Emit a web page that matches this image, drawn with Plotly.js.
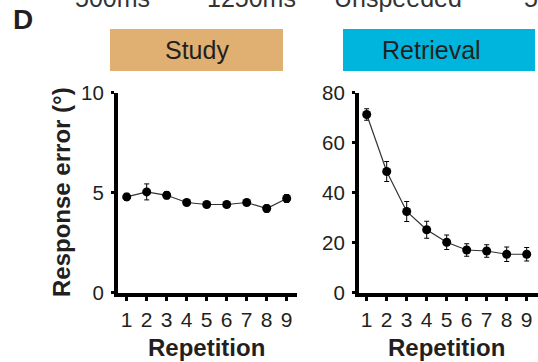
<!DOCTYPE html>
<html>
<head>
<meta charset="utf-8">
<script src="https://cdn.plot.ly/plotly-3.0.1.min.js"></script>
<style>
  html, body { margin: 0; padding: 0; background: #fff; }
  #chart { width: 538px; height: 362px; }
</style>
</head>
<body>
<div id="chart"></div>
<script>
// Repetition number shared by both phases
const repetitions = [1, 2, 3, 4, 5, 6, 7, 8, 9];

// Study phase: mean response error (deg) and SEM
const studyError = [4.78, 5.03, 4.86, 4.50, 4.40, 4.40, 4.50, 4.20, 4.70];
const studySem   = [0.18, 0.40, 0.18, 0.15, 0.15, 0.15, 0.15, 0.18, 0.20];

// Retrieval phase: mean response error (deg) and SEM
const retrievalError = [71.2, 48.4, 32.4, 25.1, 20.1, 17.0, 16.6, 15.3, 15.3];
const retrievalSem   = [2.3, 4.0, 4.0, 3.4, 2.9, 2.5, 2.5, 2.9, 2.7];

// Panel headings and the speed-condition labels above them
const phaseLabels = ["Study", "Retrieval"];
const conditionLabels = ["500ms", "1250ms", "Unspeeded", "500ms"];

const W = 538, H = 362;
const px = v => v / W;          // horizontal pixel -> paper fraction
const py = v => 1 - v / H;      // vertical pixel -> paper fraction

const FONT = "Liberation Sans, Arial, sans-serif";
const INK = "#231f20";

function series(y, err, xa, ya) {
  return {
    x: repetitions, y: y,
    xaxis: xa, yaxis: ya,
    type: "scatter", mode: "lines+markers",
    line: { color: "#333333", width: 1.2 },
    marker: { color: "#000000", size: 9 },
    error_y: { type: "data", array: err, visible: true, color: "#000000", thickness: 1, width: 2.5 },
    cliponaxis: false,
    hoverinfo: "skip"
  };
}

const data = [
  series(studyError, studySem, "x", "y"),
  series(retrievalError, retrievalSem, "x2", "y2")
];

const yDomain = [py(292.5), py(92.5)];

const xBase = {
  showline: true, linecolor: "#000", linewidth: 4,
  ticks: "outside", ticklen: 4, tickwidth: 3, tickcolor: "#000",
  tickmode: "array", tickvals: repetitions, ticktext: repetitions.map(String),
  tickfont: { family: FONT, size: 21, color: INK },
  ticklabelstandoff: 1,
  showgrid: false, zeroline: false, fixedrange: true
};
const yBase = {
  showline: true, linecolor: "#000", linewidth: 4,
  ticks: "outside", ticklen: 3, tickwidth: 3, tickcolor: "#000",
  tickfont: { family: FONT, size: 20.5, color: INK },
  ticklabelstandoff: 3,
  showgrid: false, zeroline: false, fixedrange: true,
  domain: yDomain
};

const layout = {
  width: W, height: H,
  margin: { l: 0, r: 0, t: 0, b: 0 },
  paper_bgcolor: "#fff", plot_bgcolor: "rgba(0,0,0,0)",
  showlegend: false,
  font: { family: FONT, color: INK },
  xaxis:  Object.assign({}, xBase, { domain: [px(118), px(297)], range: [0.565, 9.515], anchor: "y" }),
  yaxis:  Object.assign({}, yBase, { range: [0, 10], tickvals: [0, 5, 10], anchor: "x" }),
  xaxis2: Object.assign({}, xBase, { domain: [px(359), 1], range: [0.615, 9.565], anchor: "y2" }),
  yaxis2: Object.assign({}, yBase, { range: [0, 80], tickvals: [0, 20, 40, 60, 80], anchor: "x2" }),
  shapes: [
    { type: "rect", xref: "paper", yref: "paper", x0: px(110), x1: px(283), y0: py(71), y1: py(29),
      fillcolor: "#dfb071", line: { width: 0 }, layer: "below" },
    { type: "rect", xref: "paper", yref: "paper", x0: px(343), x1: px(535), y0: py(71), y1: py(29),
      fillcolor: "#00b5dd", line: { width: 0 }, layer: "below" }
  ],
  annotations: [
    { text: "<b>D</b>", xref: "paper", yref: "paper", x: px(23), y: py(20),
      xanchor: "center", yanchor: "middle", showarrow: false,
      font: { family: FONT, size: 28, color: INK } },
    { text: phaseLabels[0], xref: "paper", yref: "paper", x: px(196.5), y: py(50),
      xanchor: "center", yanchor: "middle", showarrow: false,
      font: { family: FONT, size: 25, color: INK } },
    { text: phaseLabels[1], xref: "paper", yref: "paper", x: px(431), y: py(50),
      xanchor: "center", yanchor: "middle", showarrow: false,
      font: { family: FONT, size: 25, color: INK } },
    { text: "<b>Response error (°)</b>", xref: "paper", yref: "paper", x: px(61), y: py(192),
      xanchor: "center", yanchor: "middle", textangle: -90, showarrow: false,
      font: { family: FONT, size: 24, color: INK } },
    { text: "<b>Repetition</b>", xref: "paper", yref: "paper", x: px(206.7), y: py(347),
      xanchor: "center", yanchor: "middle", showarrow: false,
      font: { family: FONT, size: 24, color: INK } },
    { text: "<b>Repetition</b>", xref: "paper", yref: "paper", x: px(446.7), y: py(347),
      xanchor: "center", yanchor: "middle", showarrow: false,
      font: { family: FONT, size: 24, color: INK } }
  ].concat(conditionLabels.map((t, i) => ({
    text: t, xref: "paper", yref: "paper",
    x: px([112, 251, 397.5, 561][i]), y: py(-1.5),
    xanchor: "center", yanchor: "middle", showarrow: false,
    font: { family: FONT, size: 25, color: "#333333" }
  })))
};

Plotly.newPlot("chart", data, layout, { displayModeBar: false, staticPlot: true });
</script>
</body>
</html>
